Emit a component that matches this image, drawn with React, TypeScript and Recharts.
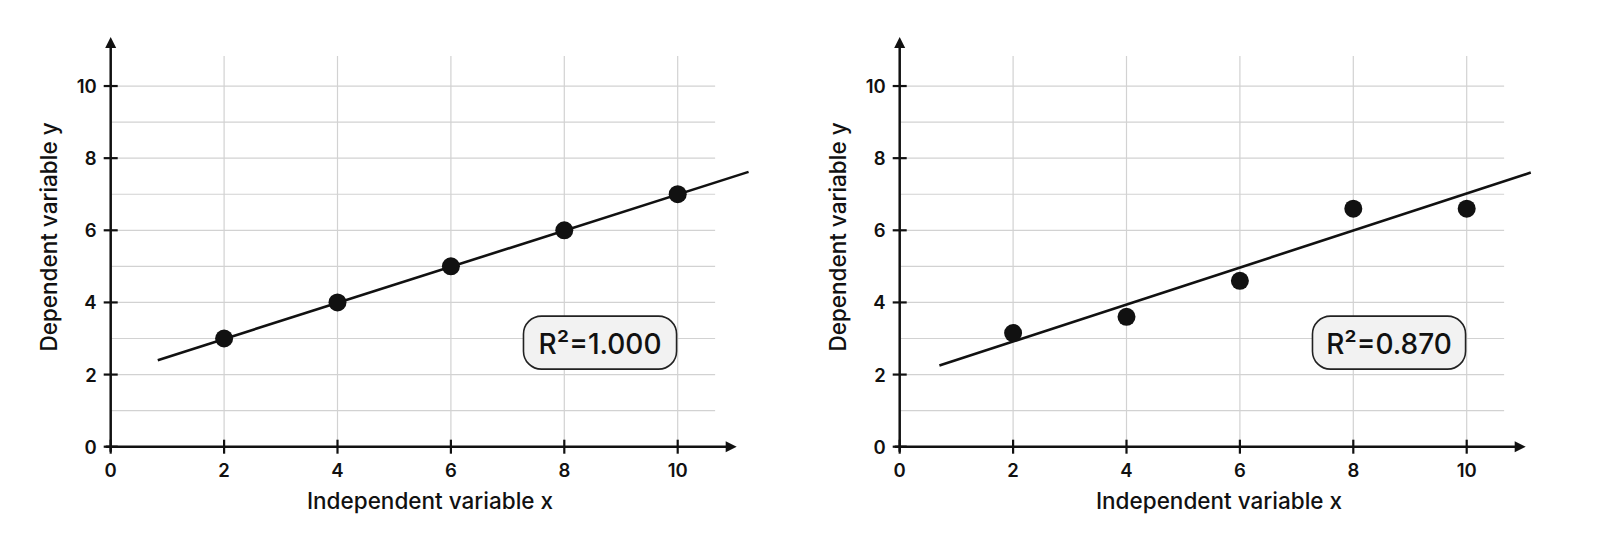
import { ScatterChart, Scatter, XAxis, YAxis, ReferenceLine, ReferenceArea } from "recharts";

// values
const xTicks = [0, 2, 4, 6, 8, 10];
const yTicks = [0, 2, 4, 6, 8, 10];
const gridRows = [1, 2, 3, 4, 5, 6, 7, 8, 9, 10];
const gridCols = [2, 4, 6, 8, 10];

const xValues = [2, 4, 6, 8, 10];
const yPerfect = [3, 4, 5, 6, 7];
const yScattered = [3.15, 3.6, 4.6, 6.6, 6.6];

const fitPerfectX = [0.83, 11.25];
const fitPerfectY = [2.4, 7.62];
const fitScatteredX = [0.7, 11.13];
const fitScatteredY = [2.25, 7.6];

const rSquaredLabels = ["R²=1.000", "R²=0.870"];

const INK = "#111";
const FONT = "Inter, 'Noto Sans', sans-serif";

const toPoints = (xs: number[], ys: number[]) => xs.map((x, i) => ({ x, y: ys[i] }));

const XTick = (props: any) => {
    const { x, y, payload } = props;
    return (
        <g>
            <line x1={x} x2={x} y1={y - 7} y2={y + 7} stroke={INK} strokeWidth={2.2} />
            <text x={x} y={y + 23} textAnchor="middle" dominantBaseline="central" fontSize={18.5} fontWeight={600} fill={INK} fontFamily={FONT}>
                {payload.value}
            </text>
        </g>
    );
};

const YTick = (props: any) => {
    const { x, y, payload } = props;
    return (
        <g>
            <line x1={x - 7} x2={x + 7} y1={y} y2={y} stroke={INK} strokeWidth={2.2} />
            <text x={x - 14} y={y} textAnchor="end" dominantBaseline="central" fontSize={18.5} fontWeight={600} fill={INK} fontFamily={FONT}>
                {payload.value}
            </text>
        </g>
    );
};

const arrowX = (p: any) => (
    <g>
        <line x1={p.x1 - 5} y1={p.y1} x2={p.x2 - 8} y2={p.y2} stroke={INK} strokeWidth={2.5} />
        <polygon points={`${p.x2},${p.y2} ${p.x2 - 11},${p.y2 - 5.5} ${p.x2 - 11},${p.y2 + 5.5}`} fill={INK} />
    </g>
);

const arrowY = (p: any) => (
    <g>
        <line x1={p.x1} y1={p.y1 + 5} x2={p.x2} y2={p.y2 + 8} stroke={INK} strokeWidth={2.5} />
        <polygon points={`${p.x2},${p.y2} ${p.x2 - 5.5},${p.y2 + 11} ${p.x2 + 5.5},${p.y2 + 11}`} fill={INK} />
    </g>
);

function Panel(props: { ys: number[]; fitX: number[]; fitY: number[]; label: string }) {
    const points = toPoints(xValues, props.ys);
    const fit = toPoints(props.fitX, props.fitY);
    return (
        <ScatterChart width={800} height={550} margin={{ top: 13.9, right: 8.9, bottom: 43.3, left: 50.7 }}>
            <XAxis
                type="number"
                dataKey="x"
                domain={[0, 12]}
                ticks={xTicks}
                interval={0}
                allowDataOverflow
                axisLine={false}
                tickLine={false}
                tickSize={0}
                tickMargin={0}
                height={60}
                tick={(p: any) => <XTick {...p} />}
                label={{
                    content: () => (
                        <text x={430} y={500} textAnchor="middle" dominantBaseline="central" fontSize={22.5} fontWeight={500} fill={INK} fontFamily={FONT}>
                            Independent variable x
                        </text>
                    ),
                }}
            />
            <YAxis
                type="number"
                dataKey="y"
                domain={[0, 12]}
                ticks={yTicks}
                interval={0}
                allowDataOverflow
                axisLine={false}
                tickLine={false}
                tickSize={0}
                tickMargin={0}
                width={60}
                tick={(p: any) => <YTick {...p} />}
                label={{
                    content: () => (
                        <text x={48} y={237} transform="rotate(-90 48 237)" textAnchor="middle" dominantBaseline="central" fontSize={22.5} fontWeight={500} fill={INK} fontFamily={FONT}>
                            Dependent variable y
                        </text>
                    ),
                }}
            />
            {gridRows.map((r) => (
                <ReferenceLine key={"r" + r} segment={[{ x: 0, y: r }, { x: 10.66, y: r }]} stroke="#d2d2d2" strokeWidth={1.2} zIndex={-100} />
            ))}
            {gridCols.map((c) => (
                <ReferenceLine key={"c" + c} segment={[{ x: c, y: 0 }, { x: c, y: 10.83 }]} stroke="#d2d2d2" strokeWidth={1.2} zIndex={-100} />
            ))}
            <ReferenceLine segment={[{ x: 0, y: 0 }, { x: 11.04, y: 0 }]} shape={arrowX} zIndex={500} />
            <ReferenceLine segment={[{ x: 0, y: 0 }, { x: 0, y: 11.36 }]} shape={arrowY} zIndex={500} />
            <Scatter
                data={fit}
                line={{ stroke: INK, strokeWidth: 2.6 }}
                shape={() => <g />}
                legendType="none"
                isAnimationActive={false}
            />
            <Scatter
                data={points}
                shape={(p: any) => <circle cx={p.cx} cy={p.cy} r={9} fill={INK} />}
                legendType="none"
                isAnimationActive={false}
            />
            <ReferenceArea
                x1={7.28}
                x2={9.98}
                y1={2.15}
                y2={3.62}
                zIndex={2000}
                shape={(p: any) => (
                    <g>
                        <rect x={p.x} y={p.y} width={p.width} height={p.height} rx={18} ry={18} fill="#f2f2f2" stroke="#222" strokeWidth={1.6} />
                        <text x={p.x + p.width / 2} y={p.y + p.height / 2 + 1} textAnchor="middle" dominantBaseline="central" fontSize={28} fontWeight={500} fill={INK} fontFamily={FONT}>
                            {props.label}
                        </text>
                    </g>
                )}
            />
        </ScatterChart>
    );
}

export default function App() {
    return (
        <div style={{ position: "absolute", left: 0, top: 0, width: 1600, height: 550, background: "#fff", fontFamily: FONT }}>
            <div style={{ position: "absolute", left: 0, top: 0 }}>
                <Panel ys={yPerfect} fitX={fitPerfectX} fitY={fitPerfectY} label={rSquaredLabels[0]} />
            </div>
            <div style={{ position: "absolute", left: 788.6, top: 0 }}>
                <Panel ys={yScattered} fitX={fitScatteredX} fitY={fitScatteredY} label={rSquaredLabels[1]} />
            </div>
        </div>
    );
}
